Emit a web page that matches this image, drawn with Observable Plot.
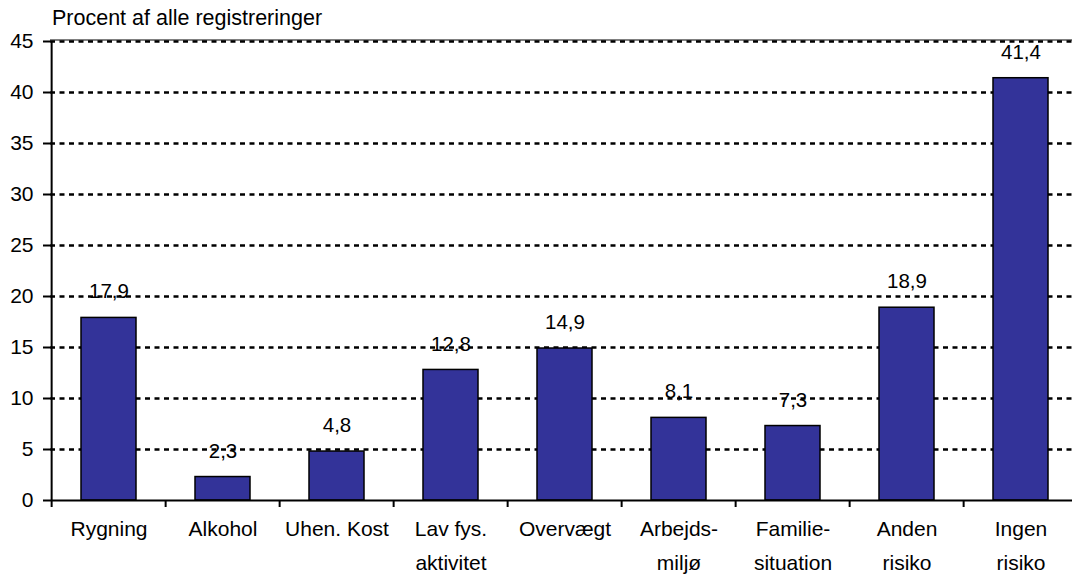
<!DOCTYPE html>
<html><head><meta charset="utf-8">
<script src="https://cdn.jsdelivr.net/npm/d3@7"></script>
<script src="https://cdn.jsdelivr.net/npm/@observablehq/plot@0.6"></script>
<style>
body{margin:0;background:#fff;font-family:"Liberation Sans",Arial,sans-serif;}
#title{height:30px;font-size:21.5px;padding-left:52px;line-height:36px;color:#000;white-space:nowrap;}
#chart svg{overflow:visible;}
</style></head>
<body><div id="title">Procent af alle registreringer</div><div id="chart"></div>
<script>
const categories = ["Rygning","Alkohol","Uhen. Kost","Lav fys.\naktivitet","Overvægt","Arbejds-\nmiljø","Familie-\nsituation","Anden\nrisiko","Ingen\nrisiko"];
const values = [17.9, 2.3, 4.8, 12.8, 14.9, 8.1, 7.3, 18.9, 41.4];
const yTicks = [0, 5, 10, 15, 20, 25, 30, 35, 40, 45];
const data = categories.map((c, i) => ({category: c, value: values[i]}));
const fmt = v => v.toFixed(1).replace(".", ",");
const x0 = 48.5, x1 = 1081;
const half = -(x1 - x0) / 9 / 2;
const chart = Plot.plot({
  width: 1072, height: 544, marginTop: 11, marginBottom: 74, marginLeft: 50, marginRight: 0,
  x: {domain: categories, range: [x0, x1], paddingInner: 0.52, paddingOuter: 0.26, align: 0.5, axis: null},
  y: {domain: [0, 45], range: [470, 11], axis: null},
  style: {fontFamily: "'Liberation Sans', Arial, sans-serif", fontSize: "21px", color: "#000", background: "#fff"},
  marks: [
    Plot.ruleY(yTicks.filter(t => t > 0), {stroke: "#000", strokeWidth: 2.5, strokeDasharray: "5,4.5"}),
    Plot.ruleY([45], {stroke: "#000", strokeWidth: 1, dy: -1.5}),
    Plot.barY(data, {x: "category", y: "value", fill: "#333399", stroke: "#000", strokeWidth: 1.5}),
    Plot.text(data, {x: "category", y: "value", text: d => fmt(d.value), dy: -26, fontSize: 20.5, fill: "#000"}),
    Plot.ruleY([0], {stroke: "#000", strokeWidth: 2}),
    Plot.ruleX([categories[0]], {y1: 0, y2: 45, dx: half, stroke: "#000", strokeWidth: 2}),
    Plot.ruleX(categories, {x: d => d, y1: 0, y2: 0, insetBottom: -7, dx: half, stroke: "#000", strokeWidth: 2}),
    Plot.axisY({ticks: yTicks, tickSize: 7, tickPadding: 10, label: null, fontSize: 21, strokeWidth: 2}),
    Plot.axisX({tickSize: 0, tickPadding: 12, label: null, fontSize: 21, lineHeight: 1.6})
  ]
});
document.getElementById("chart").appendChild(chart);
</script>
</body></html>
